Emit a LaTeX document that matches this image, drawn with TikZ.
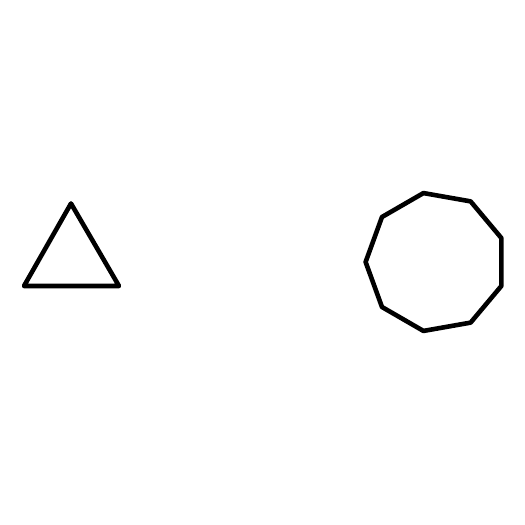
\documentclass[tikz,border=0pt]{standalone}
\usetikzlibrary{calc}
\begin{document}
\begin{tikzpicture}[x=1pt,y=-1pt,shape line/.style={line width=4.6pt,line join=round,black}]
\useasboundingbox (0,0) rectangle (525,525);
\draw[shape line] (71,203.5) -- (119,286) -- (24,286) -- cycle;
\coordinate (c) at (435.6,262);
\draw[shape line] ($(c)+(180:70)$) \foreach \a in {140,100,...,-140} { -- ($(c)+(\a:70)$) } -- cycle;
\end{tikzpicture}
\end{document}
